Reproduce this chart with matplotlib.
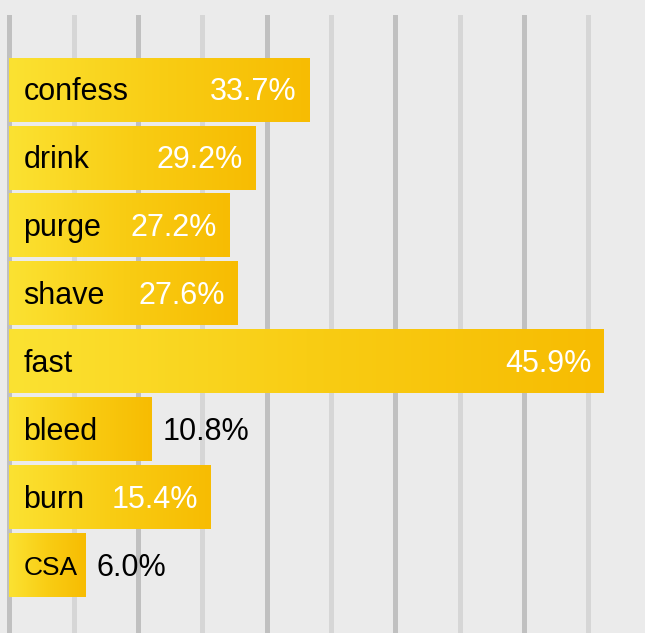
import numpy as np
import matplotlib.pyplot as plt
from matplotlib.colors import LinearSegmentedColormap

categories = ["confess", "drink", "purge", "shave", "fast", "bleed", "burn", "CSA"]
bar_values = [46.7, 38.3, 34.3, 35.5, 92.5, 22.2, 31.3, 11.9]
pct_labels = ["33.7%", "29.2%", "27.2%", "27.6%", "45.9%", "10.8%", "15.4%", "6.0%"]

plt.rcParams["font.family"] = ["Liberation Sans", "DejaVu Sans"]

BG = "#ebebeb"
grad = LinearSegmentedColormap.from_list("gold", ["#fbe232", "#f9cd14", "#f7bc02"])

W, H, DPI = 645, 633, 100
fig = plt.figure(figsize=(W / DPI, H / DPI), dpi=DPI, facecolor=BG)
ax = fig.add_axes([0, 0, 1, (H - 15) / H])
ax.set_facecolor(BG)

px_per_unit = 6.43
x0 = -9.5 / px_per_unit
ax.set_xlim(x0, x0 + W / px_per_unit)
ax.set_ylim(len(categories) - 1 + 1.0, -1.1)

# alternating dark / light vertical gridlines
for i, gx in enumerate(np.arange(0, 100, 10)):
    ax.axvline(gx, color="#c0c0c0" if i % 2 == 0 else "#d6d6d6", lw=3.6, zorder=0)

bars = ax.barh(range(len(categories)), bar_values, height=0.94, color="none", zorder=1)
gradient = np.linspace(0, 1, 256).reshape(1, -1)
for b in bars:
    x, y, w, h = b.get_x(), b.get_y(), b.get_width(), b.get_height()
    ax.imshow(gradient, cmap=grad, aspect="auto", extent=(x, x + w, y + h, y),
              zorder=2, interpolation="bicubic")

fig.canvas.draw()
r = fig.canvas.get_renderer()
to_data = ax.transData.inverted()

dy = 0.04
for i, (cat, val, lab) in enumerate(zip(categories, bar_values, pct_labels)):
    size = 22
    t = ax.text(14 / px_per_unit, i + dy, cat, va="center", ha="left", fontsize=size,
                color="black", zorder=3)
    bb = t.get_window_extent(r)
    # shrink label if it doesn't leave room in short bars
    if bb.x1 > ax.transData.transform((val, 0))[0] - 8:
        t.set_fontsize(19)
        bb = t.get_window_extent(r)
    lab_end = to_data.transform((bb.x1, 0))[0]
    probe = ax.text(0, i, lab, fontsize=size)
    lw = probe.get_window_extent(r).width / px_per_unit
    probe.remove()
    if lab_end + 2 + lw + 14 / px_per_unit <= val:
        ax.text(val - 13 / px_per_unit, i + dy, lab, va="center", ha="right",
                fontsize=size, color="white", zorder=3)
    else:
        ax.text(val + 10 / px_per_unit, i + dy, lab, va="center", ha="left",
                fontsize=size, color="black", zorder=3)

ax.axis("off")
fig.savefig("out.png", dpi=DPI, facecolor=BG)
